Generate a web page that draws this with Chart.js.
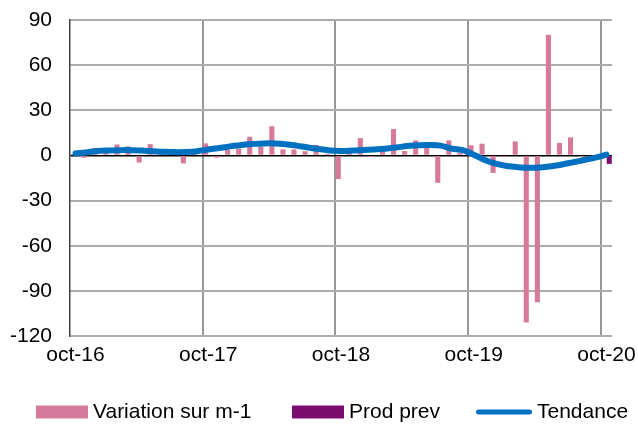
<!DOCTYPE html>
<html>
<head>
<meta charset="utf-8">
<script src="https://cdn.jsdelivr.net/npm/chart.js@4.4.0/dist/chart.umd.min.js"></script>
<style>
  html, body { margin: 0; padding: 0; background: #fff; }
</style>
</head>
<body>
<canvas id="chart" width="638" height="427"></canvas>
<script>
// Monthly categories, oct-16 to oct-20
const months = [
    'oct-16', 'nov-16', 'déc-16', 'janv-17', 'févr-17', 'mars-17', 'avr-17', 'mai-17', 'juin-17', 'juil-17', 'août-17', 'sept-17',
    'oct-17', 'nov-17', 'déc-17', 'janv-18', 'févr-18', 'mars-18', 'avr-18', 'mai-18', 'juin-18', 'juil-18', 'août-18', 'sept-18',
    'oct-18', 'nov-18', 'déc-18', 'janv-19', 'févr-19', 'mars-19', 'avr-19', 'mai-19', 'juin-19', 'juil-19', 'août-19', 'sept-19',
    'oct-19', 'nov-19', 'déc-19', 'janv-20', 'févr-20', 'mars-20', 'avr-20', 'mai-20', 'juin-20', 'juil-20', 'août-20', 'sept-20',
    'oct-20'
];

// Variation sur m-1
const variation = [
    1, -1.5, 5, 2, 7.3, 6, -4.7, 7.5, 2, 1, -5.3, 1,
    8, -1.5, 3.7, 4.5, 12.4, 5.8, 19.4, 4, 4, 2.8, 7, 1,
    -15.7, 2, 11.5, -1, 2.4, 17.5, 2.9, 10, 5, -18.2, 10, 2,
    6.8, 7.8, -11.6, -1, 9.3, -111, -97.6, 80.2, 8.3, 12, -1, 0.5,
    null
];

// Prod prev (last month only)
const prodPrev = [
    null, null, null, null, null, null, null, null, null, null, null, null,
    null, null, null, null, null, null, null, null, null, null, null, null,
    null, null, null, null, null, null, null, null, null, null, null, null,
    null, null, null, null, null, null, null, null, null, null, null, null,
    -5.6
];

// Tendance
const tendance = [
    1.3, 2, 2.9, 3.3, 3.5, 3.5, 3.2, 2.8, 2.4, 2.2, 2.3, 2.8,
    4, 5, 6, 7, 7.6, 8, 8, 7.5, 6.5, 5.3, 4.3, 3.3,
    3, 3.2, 3.6, 4, 4.5, 5.3, 6.2, 6.8, 7, 6.5, 4.5, 3.5,
    0.5, -3, -5.5, -7, -7.8, -8.2, -8, -7.2, -6, -4.5, -3, -1.5,
    0.5
];

const xTickLabels = ['oct-16', 'oct-17', 'oct-18', 'oct-19', 'oct-20'];
const yTickValues = [-120, -90, -60, -30, 0, 30, 60, 90];

const fontFamily = "'Liberation Sans', Arial, sans-serif";
const font = { family: fontFamily, size: 21 };

// Legend drawn along the bottom, Excel style
const legendX = [36, 292, 476];
const bottomLegend = {
    id: 'bottomLegend',
    afterDraw(chart) {
        const c = chart.ctx;
        const y = 412;
        c.save();
        c.font = '21px ' + fontFamily;
        c.textBaseline = 'middle';
        chart.data.datasets.forEach((ds, i) => {
            const x = legendX[i];
            let textX = x + 57;
            if (ds.type === 'line') {
                c.strokeStyle = ds.borderColor;
                c.lineWidth = 5;
                c.lineCap = 'round';
                c.beginPath();
                c.moveTo(x + 2.5, y);
                c.lineTo(x + 53.5, y);
                c.stroke();
                textX = x + 61;
            } else {
                c.fillStyle = ds.backgroundColor;
                c.fillRect(x, y - 6.5, 52, 13);
            }
            c.fillStyle = '#000';
            c.fillText(ds.label, textX, y);
        });
        c.restore();
    }
};

const ctx = document.getElementById('chart').getContext('2d');
const chart = new Chart(ctx, {
    data: {
        labels: months,
        datasets: [{
            type: 'bar',
            label: 'Variation sur m-1',
            data: variation,
            backgroundColor: '#D6799A',
            borderWidth: 0,
            categoryPercentage: 1,
            barPercentage: 0.92,
            order: 1
        }, {
            type: 'bar',
            label: 'Prod prev',
            data: prodPrev,
            backgroundColor: '#7A0E6E',
            borderWidth: 0,
            categoryPercentage: 1,
            barPercentage: 0.92,
            order: 1
        }, {
            type: 'line',
            label: 'Tendance',
            data: tendance,
            borderColor: '#0070C0',
            backgroundColor: '#0070C0',
            borderWidth: 6,
            borderCapStyle: 'round',
            borderJoinStyle: 'round',
            tension: 0.4,
            pointRadius: 0,
            order: 0
        }]
    },
    plugins: [bottomLegend],
    options: {
        responsive: false,
        animation: false,
        layout: { padding: { top: 20, right: 26, left: 3, bottom: 58 } },
        plugins: {
            tooltip: { enabled: false },
            legend: { display: false }
        },
        scales: {
            x: {
                type: 'category',
                offset: true,
                grid: {
                    offset: true,
                    drawTicks: false,
                    color: c => (c.index !== undefined && c.index > 0 && c.index % 12 === 0) ? '#989898' : 'rgba(0,0,0,0)',
                    lineWidth: 2
                },
                border: { display: false },
                ticks: {
                    autoSkip: false,
                    maxRotation: 0,
                    padding: 7,
                    font: font,
                    color: '#000',
                    callback: function(value) {
                        const label = this.getLabelForValue(value);
                        return xTickLabels.includes(label) ? label : '';
                    }
                },
                afterFit: scale => {
                    scale.height = 33;
                    scale.paddingLeft = 0;
                    scale.paddingRight = 0;
                }
            },
            y: {
                min: -120,
                max: 90,
                afterBuildTicks: scale => {
                    scale.ticks = yTickValues.map(v => ({ value: v }));
                },
                grid: {
                    drawTicks: false,
                    color: c => c.tick.value === 0 ? '#000' : '#acacac',
                    lineWidth: c => c.tick.value === 0 ? 1.5 : 2
                },
                border: { display: true, color: '#404040', width: 1.5 },
                ticks: {
                    padding: 18,
                    font: font,
                    color: '#000'
                },
                afterFit: scale => {
                    scale.width = 67;
                    scale.paddingTop = 0;
                    scale.paddingBottom = 0;
                }
            }
        }
    }
});
</script>
</body>
</html>
